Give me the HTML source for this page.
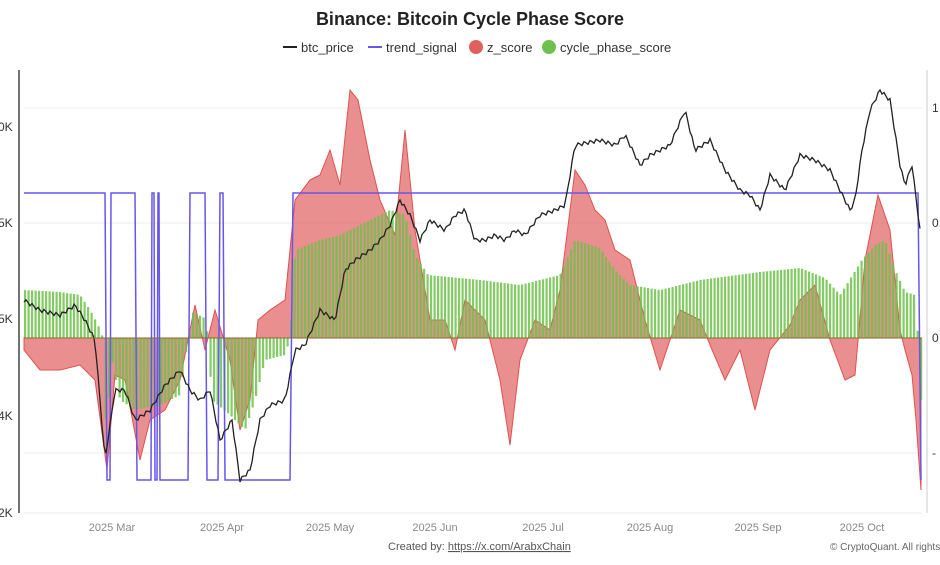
<!DOCTYPE html>
<html><head><meta charset="utf-8"><style>
body{margin:0;background:#fff;width:940px;height:560px;overflow:hidden;font-family:"Liberation Sans",sans-serif}
</style></head><body>
<svg id="s" width="940" height="560" xmlns="http://www.w3.org/2000/svg" font-family="Liberation Sans, sans-serif">
<text x="470" y="25" text-anchor="middle" font-size="18" font-weight="bold" fill="#222">Binance: Bitcoin Cycle Phase Score</text>
<line x1="283" y1="47" x2="297" y2="47" stroke="#222" stroke-width="2"/><text x="301" y="52" font-size="13" fill="#333">btc_price</text>
<line x1="368" y1="47" x2="382" y2="47" stroke="#6655ee" stroke-width="2"/><text x="386" y="52" font-size="13" fill="#333">trend_signal</text>
<circle cx="476" cy="47" r="7" fill="#e06060"/><text x="487" y="52" font-size="13" fill="#333">z_score</text>
<circle cx="549" cy="47" r="7" fill="#6cc24a"/><text x="560" y="52" font-size="13" fill="#333">cycle_phase_score</text>
<g stroke="#eee" stroke-width="1">
<line x1="24" y1="108" x2="922" y2="108"/><line x1="24" y1="223" x2="922" y2="223"/><line x1="24" y1="453" x2="922" y2="453"/><line x1="24" y1="513" x2="922" y2="513"/>
</g>
<line x1="19" y1="70" x2="19" y2="513" stroke="#444" stroke-width="1.5"/>
<line x1="927" y1="70" x2="927" y2="513" stroke="#ccc" stroke-width="1"/>
<g font-size="12" fill="#333">
<text x="-2" y="131">0K</text><text x="-2" y="227">5K</text><text x="-2" y="323">5K</text><text x="-2" y="420">4K</text><text x="-2" y="517">2K</text>
<text x="932" y="112">1</text><text x="932" y="227">0.</text><text x="932" y="342">0</text><text x="932" y="457">-</text>
</g>
<g id="plot"></g>
<g font-size="11" fill="#888" text-anchor="middle">
<text x="112" y="531">2025 Mar</text><text x="222" y="531">2025 Apr</text><text x="330" y="531">2025 May</text><text x="435" y="531">2025 Jun</text><text x="543" y="531">2025 Jul</text><text x="650" y="531">2025 Aug</text><text x="758" y="531">2025 Sep</text><text x="862" y="531">2025 Oct</text>
</g>
<text x="388" y="550" font-size="11" fill="#555">Created by: <tspan text-decoration="underline">https://x.com/ArabxChain</tspan></text>
<text x="830" y="550" font-size="10" fill="#666">© CryptoQuant. All rights rese</text>
</svg>
<script>
function interp(k,x){for(let i=0;i<k.length-1;i++){if(x>=k[i][0]&&x<=k[i+1][0]){const t=(x-k[i][0])/(k[i+1][0]-k[i][0]);return k[i][1]+t*(k[i+1][1]-k[i][1]);}}return x<k[0][0]?k[0][1]:k[k.length-1][1];}
const B=338;
const cps=[[24,290],[60,292],[80,295],[90,310],[98,325],[103,338],[106,435],[112,360],[120,400],[135,410],[160,405],[180,395],[188,338],[192,312],[205,318],[208,338],[212,400],[230,415],[245,430],[255,400],[265,360],[285,355],[290,338],[295,250],[320,240],[340,235],[360,225],[390,210],[405,215],[415,255],[428,275],[480,280],[520,285],[560,275],[575,240],[600,248],[615,270],[630,285],[660,290],[700,280],[760,272],[800,268],[825,278],[840,295],[862,260],[875,245],[885,240],[895,270],[905,292],[915,295],[918,338],[921,400]];
const zs=[[24,350],[40,370],[60,370],[80,365],[95,380],[107,470],[115,375],[125,380],[140,460],[150,420],[165,410],[180,380],[195,305],[205,350],[215,310],[230,360],[240,430],[250,400],[258,320],[270,310],[285,300],[295,200],[310,180],[320,175],[330,150],[340,185],[350,90],[358,100],[370,160],[380,200],[395,235],[405,130],[415,230],[430,320],[445,320],[455,350],[465,300],[475,310],[485,320],[500,380],[510,445],[520,360],[535,320],[550,330],[560,290],[575,170],[585,185],[595,210],[605,220],[615,250],[630,260],[645,320],[660,370],[680,310],[700,320],[710,345],[725,380],[740,350],[755,410],[770,350],[790,325],[800,300],[815,285],[830,340],[845,380],[855,375],[865,260],[878,195],[890,230],[900,330],[905,350],[912,375],[916,420],[921,490]];
const btc=[[24,300],[40,310],[60,315],[75,305],[85,320],[95,340],[105,460],[115,390],[125,390],[135,420],[150,410],[165,385],[180,370],[190,390],[200,400],[210,390],[220,440],[232,420],[240,480],[250,470],[260,420],[270,405],[285,400],[295,350],[305,345],[320,310],[335,320],[345,270],[355,260],[370,250],[380,240],[390,225],[400,200],[410,215],[420,240],[430,220],[445,230],[455,215],[465,210],[475,240],[485,240],[495,235],[505,240],[515,230],[525,235],[540,215],[555,210],[565,205],[575,145],[600,140],[615,145],[625,135],[640,165],[650,155],[660,150],[670,145],[685,110],[695,150],[710,140],[725,170],[740,190],[750,195],[760,210],[770,175],[785,190],[800,155],[815,160],[830,170],[840,190],[850,210],[855,200],[862,150],[870,110],[880,90],[890,100],[900,165],[905,185],[912,165],[920,230]];
const ts=[[24,193],[105,193],[107,480],[110,480],[111,193],[135,193],[137,480],[151,480],[152,193],[154,193],[155,480],[157,480],[158,193],[159,193],[160,480],[188,480],[190,193],[205,193],[207,480],[218,480],[220,193],[223,193],[225,480],[290,480],[293,193],[918,193],[921,480]];
let h='';
let zp='M24,'+B;for(let x=24;x<=921;x+=1)zp+=' L'+x+','+interp(zs,x).toFixed(1);zp+=' L921,'+B+' Z';
h+='<path d="'+zp+'" fill="#e06060" fill-opacity="0.7" stroke="#e05050" stroke-width="1"/>';
for(let x=25;x<=921;x+=3.5){const y=interp(cps,x);h+='<rect x="'+(x-1).toFixed(1)+'" y="'+Math.min(y,B).toFixed(1)+'" width="2.2" height="'+Math.abs(y-B).toFixed(1)+'" fill="#6cc24a" fill-opacity="0.85"/>';}
h+='<polyline points="'+ts.map(p=>p.join(',')).join(' ')+'" fill="none" stroke="#6655ee" stroke-width="1.5"/>';
let bp=[];for(let x=24;x<=920;x+=2){bp.push(x+','+(interp(btc,x)+(x%6==0?2:x%6==2?-1.5:0)).toFixed(1));}
h+='<polyline points="'+bp.join(' ')+'" fill="none" stroke="#222" stroke-width="1.3"/>';
h+='<line x1="24" y1="'+B+'" x2="922" y2="'+B+'" stroke="#8a6a2a" stroke-width="1"/>';
document.getElementById('plot').innerHTML=h;
</script>
</body></html>
